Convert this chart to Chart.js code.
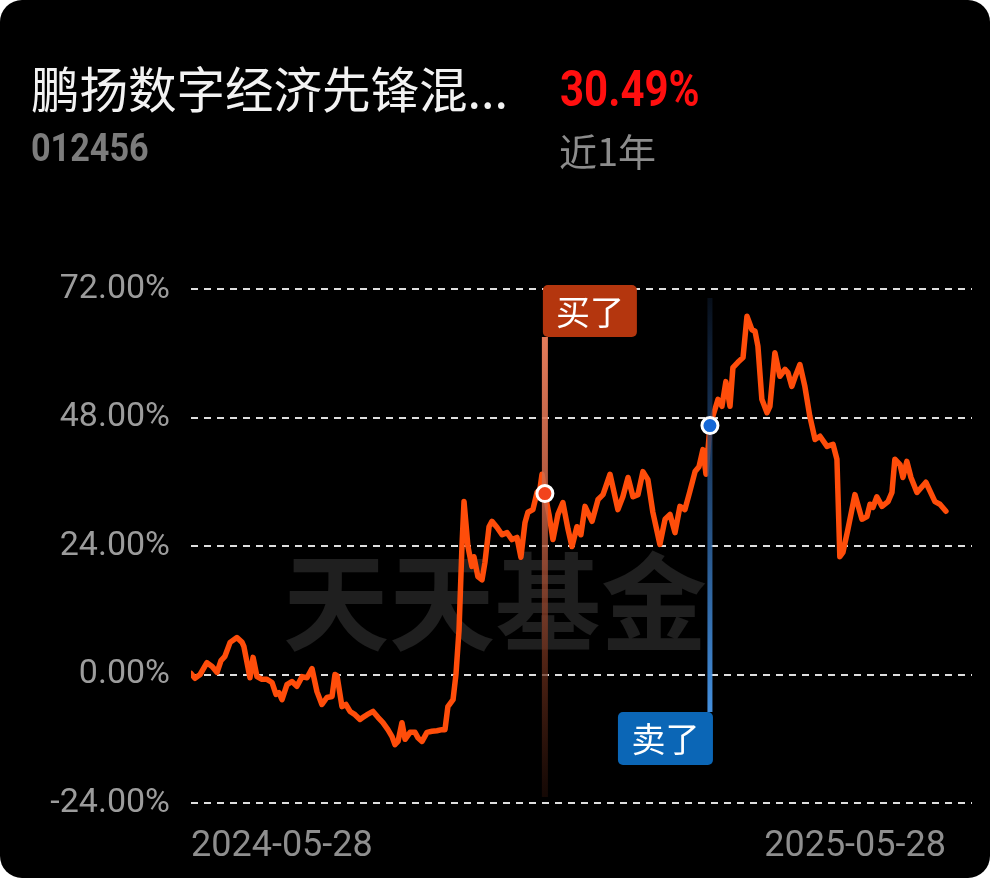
<!DOCTYPE html>
<html><head><meta charset="utf-8">
<script src="https://cdn.jsdelivr.net/npm/chart.js@4.4.1/dist/chart.umd.min.js"></script>
<style>
html,body{margin:0;padding:0;background:#fff;}
#card{position:relative;width:990px;height:878px;background:#000;border-radius:22px;overflow:hidden;}
#chart{position:absolute;left:0;top:0;}
.t{position:absolute;white-space:nowrap;line-height:1;transform-origin:0 0;}
#name{left:31px;top:52px;font:400 48.5px 'Noto Sans CJK SC';color:#f2f2f2;}
#ret{left:560px;top:60px;font:700 50px Roboto;color:#ff0f0f;transform:scaleX(0.84);}
#code{left:31px;top:126px;font:700 38px Roboto;color:#7c7c7c;transform:scaleX(0.9);}
#period{left:559px;top:122px;font:400 38px 'Noto Sans CJK SC';color:#8c8c8c;}
</style></head>
<body>
<div id="card">
  <canvas id="chart" width="990" height="878"></canvas>
  <div class="t" id="name">鹏扬数字经济先锋混...</div>
  <div class="t" id="ret">30.49%</div>
  <div class="t" id="code">012456</div>
  <div class="t" id="period">近1年</div>
</div>
<script>
const days = [0,1.9,4.4,7.7,10.2,12.6,14.5,16.4,18.9,22.2,24.7,25.6,28.5,30.0,31.9,34.3,36.7,39.2,41.1,42.5,44.0,46.4,48.8,51.2,53.7,56.1,58.5,60.9,63.3,65.7,68.2,
69.6,70.6,73.0,74.9,76.9,79.3,81.7,83.2,85.1,88.0,90.4,92.8,95.2,97.2,98.6,100.1,102.0,103.5,105.9,108.3,109.7,111.7,114.1,116.5,118.9,121.3,122.8,124.2,126.7,128.1,129.6,131.0,132.0,
133.9,135.8,136.8,138.7,140.7,142.1,144.1,145.5,147.9,150.4,152.8,155.2,157.6,159.5,161.5,162.9,165.3,167.3,168.7,169.7,171.1,173.1,175.0,177.4,179.8,182.3,184.2,186.6,188.5,190.5,193.9,196.8,199.2,202.6,206.4,208.8,211.3,213.7,216.1,218.5,220.9,223.3,226.7,229.2,231.6,234.0,236.4,238.8,241.2,243.7,245.6,247.5,249.0,250.9,
253.3,254.8,256.7,258.6,260.6,262.0,264.4,266.9,268.8,271.2,272.7,274.1,276.0,278.5,279.9,282.3,284.7,287.2,288.6,290.5,292.0,294.4,296.8,299.2,301.7,304.1,307.5,310.4,312.3,313.7,315.2,317.6,321.0,324.4,326.8,328.3,329.7,331.6,334.1,337.0,338.9,340.3,342.8,344.2,346.1,348.1,351.0,355.3,359.7,362.1,365];
const navReturn = [0.2,-0.7,0.0,2.2,1.5,0.4,2.6,3.4,6.0,6.9,6.0,5.2,-0.6,3.2,-0.4,-0.9,-0.9,-1.5,-3.7,-3.4,-4.7,-1.9,-1.3,-2.2,-0.4,-0.6,1.1,-3.2,-5.6,-4.3,-4.1,
0.0,-0.2,-6.0,-5.6,-6.9,-7.5,-8.4,-8.0,-7.5,-6.9,-8.0,-9.0,-10.3,-11.6,-13.1,-12.5,-9.0,-12.1,-10.8,-10.8,-11.8,-12.5,-10.8,-10.6,-10.5,-10.3,-10.3,-6.0,-4.7,0.0,8.4,23.9,32.3,
23.9,20.2,22.0,18.3,17.7,20.9,27.6,28.6,27.5,26.1,26.5,25.2,25.6,21.9,28.4,30.3,30.8,34.0,34.6,37.4,33.8,29.9,25.2,29.9,32.1,27.1,23.9,27.6,26.1,31.4,28.6,32.7,33.6,37.4,30.8,33.2,36.8,33.2,33.6,37.9,36.4,30.3,24.3,29.0,29.9,26.5,31.4,30.8,34.2,37.9,38.8,42.0,37.4,46.5,
49.5,51.4,50.1,54.7,50.1,57.3,58.3,59.2,66.9,64.4,64.1,61.3,51.4,48.9,50.1,60.1,55.7,57.0,56.4,53.8,55.5,57.9,53.8,48.2,43.9,44.5,42.6,43.0,40.2,22.0,22.8,27.1,33.6,29.0,29.5,31.8,31.2,33.2,31.4,32.3,34.0,40.2,39.2,36.8,39.8,36.8,34.0,35.9,32.3,31.8,30.49];
const yTickValues = [-24, 0, 24, 48, 72];
const xTickDays = [0, 365];
const xTickLabels = ['2024-05-28', '2025-05-28'];
const tradeDays = [171.1, 250.9];
const tradeValues = [33.8, 46.5];
const tradeLabels = ['买了', '卖了'];
const tradeColors = ['#f2431d', '#1668d6'];
const watermarkText = '天天基金';

const tradePlugin = {
  id: 'trade',
  beforeDraw(chart) {
    const ctx = chart.ctx;
    ctx.save();
    ctx.font = '700 106px "Noto Sans CJK SC"';
    ctx.fillStyle = 'rgba(255,255,255,0.12)';
    ctx.textAlign = 'center';
    ctx.textBaseline = 'middle';
    ctx.fillText(watermarkText, chart.width / 2, 602);
    ctx.restore();
  },
  afterDatasetDraw(chart, args) {
    if (args.index !== 0) return;
    const ctx = chart.ctx, ca = chart.chartArea, xs = chart.scales.x;
    ctx.save();
    let x = xs.getPixelForValue(tradeDays[0]);
    let top = ca.top + 48, bot = ca.bottom - 6;
    let g = ctx.createLinearGradient(0, top, 0, bot);
    g.addColorStop(0, 'rgba(240,130,95,0.95)');
    g.addColorStop(0.35, 'rgba(205,102,72,0.85)');
    g.addColorStop(0.7, 'rgba(110,48,28,0.75)');
    g.addColorStop(1, 'rgba(35,14,8,0.6)');
    ctx.strokeStyle = g; ctx.lineWidth = 6;
    ctx.beginPath(); ctx.moveTo(x, top); ctx.lineTo(x, bot); ctx.stroke();
    x = xs.getPixelForValue(tradeDays[1]);
    top = ca.top + 9; bot = ca.bottom - 91;
    g = ctx.createLinearGradient(0, top, 0, bot);
    g.addColorStop(0, 'rgba(8,16,28,0.9)');
    g.addColorStop(0.3, 'rgba(28,62,105,0.8)');
    g.addColorStop(1, 'rgba(72,152,235,0.95)');
    ctx.strokeStyle = g; ctx.lineWidth = 5;
    ctx.beginPath(); ctx.moveTo(x, top); ctx.lineTo(x, bot); ctx.stroke();
    ctx.restore();
  },
  afterDatasetsDraw(chart) {
    const ctx = chart.ctx, ca = chart.chartArea, xs = chart.scales.x;
    ctx.save();
    ctx.font = '400 34px "Noto Sans CJK SC"';
    ctx.textAlign = 'center'; ctx.textBaseline = 'middle';
    let x = xs.getPixelForValue(tradeDays[0]) - 2, y = ca.top - 4, w = 94, h = 52;
    ctx.fillStyle = '#b4360e';
    ctx.beginPath(); ctx.roundRect(x, y, w, h, 5); ctx.fill();
    ctx.fillStyle = '#fff'; ctx.fillText(tradeLabels[0], x + w / 2, y + h / 2 + 1);
    w = 95; h = 53;
    x = xs.getPixelForValue(tradeDays[1]) + 3 - w; y = ca.bottom - 91;
    ctx.fillStyle = '#0b66b6';
    ctx.beginPath(); ctx.roundRect(x, y, w, h, 5); ctx.fill();
    ctx.fillStyle = '#fff'; ctx.fillText(tradeLabels[1], x + w / 2, y + h / 2 + 1);
    ctx.restore();
  }
};

new Chart(document.getElementById('chart'), {
  data: {
    datasets: [
      {
        type: 'line',
        data: days.map((d, i) => ({ x: d, y: navReturn[i] })),
        borderColor: '#ff4d0a',
        borderWidth: 5.5,
        pointRadius: 0,
        tension: 0,
        borderJoinStyle: 'round',
        borderCapStyle: 'round',
        order: 1
      },
      {
        type: 'scatter',
        data: tradeDays.map((d, i) => ({ x: d, y: tradeValues[i] })),
        pointRadius: 8,
        pointHoverRadius: 8,
        pointBorderWidth: 3,
        pointBorderColor: '#ffffff',
        pointBackgroundColor: tradeColors,
        order: 0
      }
    ]
  },
  options: {
    responsive: false,
    devicePixelRatio: 1,
    animation: false,
    events: [],
    layout: { padding: { top: 289, right: 18, bottom: 0, left: 0 } },
    plugins: { legend: { display: false }, tooltip: { enabled: false } },
    scales: {
      x: {
        type: 'linear',
        min: 0,
        max: 377.6,
        afterBuildTicks: s => { s.ticks = xTickDays.map(v => ({ value: v })); },
        afterFit: s => { s.height = 75; },
        grid: { display: false, drawTicks: false },
        border: { display: false },
        ticks: {
          align: 'inner',
          autoSkip: false,
          maxRotation: 0,
          padding: 22,
          color: '#8e8e8e',
          font: { family: 'Roboto', size: 36 },
          callback: (v, i) => xTickLabels[i]
        }
      },
      y: {
        min: -24,
        max: 72,
        afterBuildTicks: s => { s.ticks = yTickValues.map(v => ({ value: v })); },
        afterFit: s => { s.width = 191; },
        grid: { color: '#dedede', lineWidth: 2, drawTicks: false },
        border: { display: false, dash: [7, 6] },
        ticks: {
          padding: 21,
          color: '#9c9c9c',
          font: { family: 'Roboto', size: 34 },
          callback: v => v.toFixed(2) + '%'
        }
      }
    }
  },
  plugins: [tradePlugin]
});
</script>
</body></html>
